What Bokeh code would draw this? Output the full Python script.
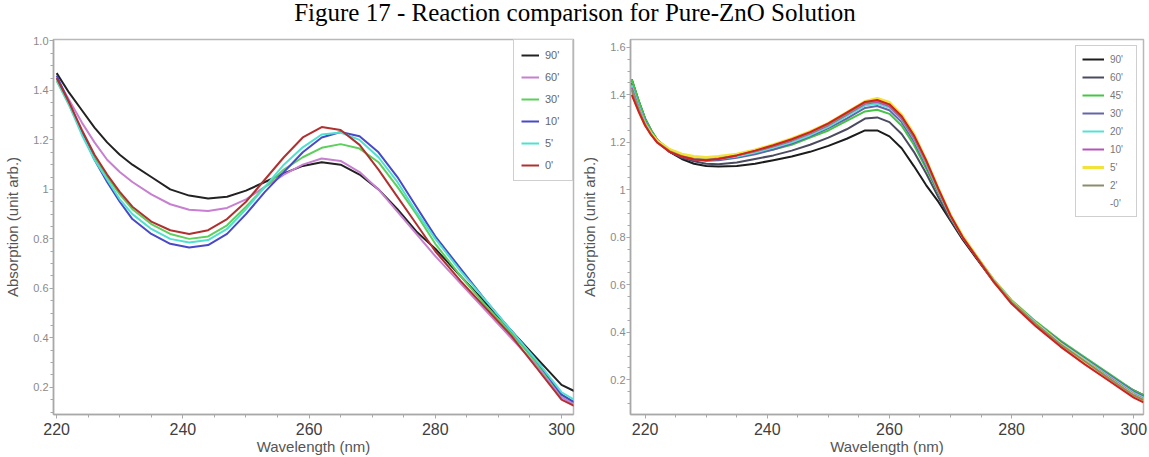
from bokeh.plotting import figure
from bokeh.layouts import column, row
from bokeh.models import FixedTicker, Legend, LegendItem, Range1d, Label
from bokeh.embed import file_html
from bokeh.resources import INLINE

title_text = "Figure 17 - Reaction comparison for Pure-ZnO Solution"
x_label = "Wavelength (nm)"
y_label = "Absorption (unit arb.)"

# ---------------- Left panel data ----------------
wl_left = [220, 222, 224, 226, 228, 230, 232, 235, 238, 241, 244, 247, 250, 253, 256,
           259, 262, 265, 268, 271, 274, 277, 280, 284, 288, 292, 296, 300, 302]
left_names = ["90'", "60'", "30'", "10'", "5'", "0'"]
left_colors = ["#222222", "#c77fd0", "#5ccf5c", "#4848c8", "#4fe0d0", "#b03030"]
left_90 = [1.47, 1.39, 1.32, 1.25, 1.19, 1.14, 1.10, 1.05, 1.00, 0.975, 0.963, 0.97, 0.995, 1.03, 1.065,
           1.095, 1.11, 1.10, 1.06, 1.00, 0.92, 0.83, 0.76, 0.65, 0.54, 0.43, 0.32, 0.21, 0.185]
left_60 = [1.45, 1.36, 1.27, 1.19, 1.12, 1.07, 1.03, 0.98, 0.94, 0.918, 0.913, 0.925, 0.96, 1.01, 1.06,
           1.10, 1.125, 1.115, 1.07, 1.00, 0.91, 0.82, 0.73, 0.62, 0.51, 0.40, 0.29, 0.16, 0.13]
left_30 = [1.44, 1.34, 1.23, 1.13, 1.05, 0.98, 0.92, 0.86, 0.82, 0.80, 0.81, 0.855, 0.93, 1.01, 1.08,
           1.13, 1.168, 1.183, 1.165, 1.11, 1.01, 0.90, 0.78, 0.65, 0.53, 0.42, 0.30, 0.17, 0.14]
left_10 = [1.46, 1.35, 1.23, 1.12, 1.03, 0.95, 0.88, 0.82, 0.78, 0.765, 0.775, 0.82, 0.90, 0.99, 1.07,
           1.15, 1.21, 1.232, 1.215, 1.15, 1.05, 0.93, 0.81, 0.68, 0.55, 0.43, 0.31, 0.17, 0.14]
left_5 = [1.44, 1.34, 1.22, 1.12, 1.04, 0.96, 0.90, 0.84, 0.80, 0.785, 0.795, 0.84, 0.92, 1.01, 1.10,
          1.17, 1.222, 1.23, 1.20, 1.13, 1.03, 0.91, 0.80, 0.67, 0.55, 0.43, 0.31, 0.18, 0.15]
left_0 = [1.45, 1.35, 1.24, 1.14, 1.06, 0.99, 0.93, 0.87, 0.835, 0.82, 0.835, 0.88, 0.95, 1.04, 1.13,
          1.21, 1.252, 1.24, 1.18, 1.08, 0.97, 0.86, 0.75, 0.63, 0.52, 0.41, 0.28, 0.15, 0.125]
left_series = [left_90, left_60, left_30, left_10, left_5, left_0]

# ---------------- Right panel data ----------------
wl_right = [217.8, 219, 220, 221, 222, 224, 226, 228, 230, 232, 235, 238, 241, 244, 247, 250, 253,
            256, 258, 260, 262, 264, 266, 268, 270, 272, 274, 277, 280, 284, 288, 292, 296, 300, 301.6]
right_names = ["90'", "60'", "45'", "30'", "20'", "10'", "5'", "2'", "-0'"]
right_colors = ["#1c1c1c", "#4a4a60", "#45c445", "#6464a8", "#58e0d8", "#b454b8", "#f2e23c", "#8c8c6c", "#d02020"]
right_90 = [1.465, 1.37, 1.30, 1.25, 1.21, 1.16, 1.13, 1.11, 1.10, 1.098, 1.10, 1.11, 1.125, 1.14, 1.16, 1.185, 1.215,
            1.25, 1.25, 1.225, 1.175, 1.10, 1.02, 0.95, 0.87, 0.79, 0.72, 0.615, 0.53, 0.44, 0.36, 0.29, 0.22, 0.155, 0.135]
right_60 = [1.45, 1.36, 1.29, 1.24, 1.205, 1.16, 1.135, 1.12, 1.11, 1.108, 1.115, 1.13, 1.145, 1.165, 1.19, 1.22, 1.255,
            1.30, 1.305, 1.285, 1.235, 1.16, 1.07, 0.97, 0.875, 0.795, 0.725, 0.62, 0.53, 0.44, 0.355, 0.285, 0.215, 0.15, 0.13]
right_45 = [1.465, 1.37, 1.30, 1.25, 1.21, 1.17, 1.145, 1.13, 1.125, 1.127, 1.14, 1.155, 1.17, 1.19, 1.22, 1.25, 1.29,
            1.33, 1.337, 1.32, 1.27, 1.19, 1.09, 0.985, 0.885, 0.80, 0.73, 0.625, 0.535, 0.445, 0.365, 0.295, 0.225, 0.155, 0.135]
right_30 = [1.44, 1.35, 1.29, 1.24, 1.205, 1.165, 1.14, 1.127, 1.122, 1.125, 1.135, 1.15, 1.17, 1.195, 1.225, 1.26, 1.30,
            1.345, 1.353, 1.335, 1.285, 1.205, 1.10, 0.99, 0.885, 0.80, 0.73, 0.62, 0.53, 0.44, 0.36, 0.29, 0.22, 0.15, 0.13]
right_20 = [1.44, 1.35, 1.285, 1.24, 1.205, 1.165, 1.142, 1.13, 1.126, 1.13, 1.14, 1.157, 1.178, 1.20, 1.23, 1.265, 1.31,
            1.355, 1.362, 1.345, 1.295, 1.215, 1.11, 0.995, 0.888, 0.80, 0.73, 0.62, 0.53, 0.44, 0.355, 0.285, 0.215, 0.145, 0.125]
right_10 = [1.43, 1.34, 1.28, 1.235, 1.20, 1.16, 1.14, 1.128, 1.126, 1.132, 1.145, 1.162, 1.183, 1.207, 1.237, 1.272, 1.317,
            1.362, 1.37, 1.352, 1.30, 1.22, 1.115, 1.00, 0.89, 0.80, 0.728, 0.62, 0.528, 0.435, 0.35, 0.28, 0.21, 0.14, 0.12]
right_5 = [1.41, 1.33, 1.275, 1.235, 1.205, 1.17, 1.15, 1.14, 1.136, 1.14, 1.15, 1.168, 1.19, 1.215, 1.245, 1.28, 1.325,
           1.372, 1.385, 1.368, 1.315, 1.235, 1.125, 1.005, 0.893, 0.805, 0.73, 0.62, 0.528, 0.435, 0.35, 0.278, 0.205, 0.135, 0.115]
right_2 = [1.42, 1.335, 1.275, 1.232, 1.20, 1.163, 1.142, 1.13, 1.127, 1.132, 1.145, 1.163, 1.185, 1.21, 1.24, 1.275, 1.32,
           1.366, 1.375, 1.358, 1.305, 1.225, 1.12, 1.00, 0.89, 0.80, 0.728, 0.62, 0.528, 0.435, 0.35, 0.278, 0.205, 0.135, 0.115]
right_0 = [1.40, 1.325, 1.27, 1.23, 1.198, 1.16, 1.14, 1.128, 1.125, 1.13, 1.145, 1.165, 1.188, 1.213, 1.243, 1.28, 1.325,
           1.37, 1.378, 1.36, 1.31, 1.23, 1.125, 1.005, 0.892, 0.80, 0.725, 0.615, 0.52, 0.425, 0.34, 0.265, 0.195, 0.125, 0.105]
right_series = [right_90, right_60, right_45, right_30, right_20, right_10, right_5, right_2, right_0]

y_ticks = [0.2, 0.4, 0.6, 0.8, 1.0, 1.2, 1.4, 1.6]
left_y_labels = {0.2: "0.2", 0.4: "0.4", 0.6: "0.6", 0.8: "0.8", 1.0: "1", 1.2: "1.2", 1.4: "1.4", 1.6: "1.0"}
right_y_labels = {0.2: "0.2", 0.4: "0.4", 0.6: "0.6", 0.8: "0.8", 1.0: "1", 1.2: "1.2", 1.4: "1.4", 1.6: "1.6"}
x_ticks = [220, 240, 260, 280, 300]

SANS = "Liberation Sans"
TITLE_H = 26
PANEL_H = 457 - TITLE_H


def style_axes(p, y_overrides):
    p.xaxis.ticker = FixedTicker(ticks=x_ticks, minor_ticks=list(range(215, 306, 5)))
    p.yaxis.ticker = FixedTicker(ticks=y_ticks, minor_ticks=[round(0.05 * i, 2) for i in range(1, 34)])
    p.yaxis.major_label_overrides = y_overrides
    for ax in (p.xaxis[0], p.yaxis[0]):
        ax.axis_line_color = "#a8a8a8"
        ax.axis_line_width = 1.5
        ax.major_tick_line_color = "#a8a8a8"
        ax.minor_tick_line_color = "#a8a8a8"
        ax.major_tick_in = 0
        ax.minor_tick_in = 0
        ax.major_tick_out = 4
        ax.minor_tick_out = 3
        ax.axis_label_text_font = SANS
        ax.axis_label_text_font_style = "normal"
        ax.axis_label_text_font_size = "15px"
        ax.axis_label_text_color = "#555555"
        ax.major_label_text_font = SANS
    p.xaxis.axis_label = x_label
    p.yaxis.axis_label = y_label
    p.xaxis.major_label_text_font_size = "16px"
    p.xaxis.major_label_text_color = "#404040"
    p.xaxis.major_label_standoff = 4
    p.xaxis.axis_label_standoff = 0
    p.yaxis.major_label_text_font_size = "11px"
    p.yaxis.major_label_text_color = "#8a8a8a"
    p.yaxis.major_label_standoff = 1
    p.yaxis.axis_label_standoff = 9
    p.xgrid.visible = False
    p.ygrid.visible = False
    p.outline_line_color = "#b8b8b8"
    p.outline_line_width = 1.5
    p.background_fill_color = "white"
    p.border_fill_color = "white"


# ---------------- Title strip ----------------
pt = figure(width=1149, height=TITLE_H, toolbar_location=None, output_backend="svg",
            x_range=Range1d(0, 1), y_range=Range1d(0, 1), min_border=0)
pt.axis.visible = False
pt.grid.visible = False
pt.outline_line_color = None
pt.add_layout(Label(x=0.5, y=0.55, text=title_text, text_align="center", text_baseline="middle",
                    text_font="Liberation Serif", text_font_size="25px", text_color="black"))

# ---------------- Left panel ----------------
p1 = figure(width=578, height=PANEL_H, toolbar_location=None, output_backend="svg",
            x_range=Range1d(219.5, 301.9), y_range=Range1d(0.09, 1.606),
            min_border_left=53, min_border_right=5, min_border_top=39 - TITLE_H, min_border_bottom=42)
style_axes(p1, left_y_labels)
items1 = []
for name, col, ys in zip(left_names, left_colors, left_series):
    r = p1.line(wl_left, ys, line_color=col, line_width=2)
    items1.append(LegendItem(label=name, renderers=[r]))
leg1 = Legend(items=items1, location="top_right", margin=0, padding=7, spacing=6,
              label_height=16, glyph_height=16, glyph_width=18, label_standoff=6,
              label_text_font=SANS, label_text_font_size="11px", label_text_color="#666666",
              border_line_color="#a0a0a0", border_line_width=1.5, background_fill_alpha=1)
p1.add_layout(leg1)

# ---------------- Right panel ----------------
p2 = figure(width=571, height=PANEL_H, toolbar_location=None, output_backend="svg",
            x_range=Range1d(217.6, 301.6), y_range=Range1d(0.054, 1.633),
            min_border_left=45, min_border_right=6, min_border_top=38 - TITLE_H, min_border_bottom=40)
style_axes(p2, right_y_labels)
items2 = []
for name, col, ys in zip(right_names, right_colors, right_series):
    lw = 3 if name == "5'" else 2
    r = p2.line(wl_right, ys, line_color=col, line_width=lw)
    if name == "-0'":
        ghost = p2.line([], [], line_color=col, line_alpha=0)
        items2.append(LegendItem(label=name, renderers=[ghost]))
    else:
        items2.append(LegendItem(label=name, renderers=[r]))
leg2 = Legend(items=items2, location="top_right", margin=6, padding=6, spacing=4,
              label_height=14, glyph_height=14, glyph_width=22, label_standoff=6,
              label_text_font=SANS, label_text_font_size="10px", label_text_color="#777777",
              border_line_color="#a0a0a0", border_line_width=1.5, background_fill_alpha=1)
p2.add_layout(leg2)

layout = column(pt, row(p1, p2))
open("out.html", "w").write(file_html(layout, INLINE))
